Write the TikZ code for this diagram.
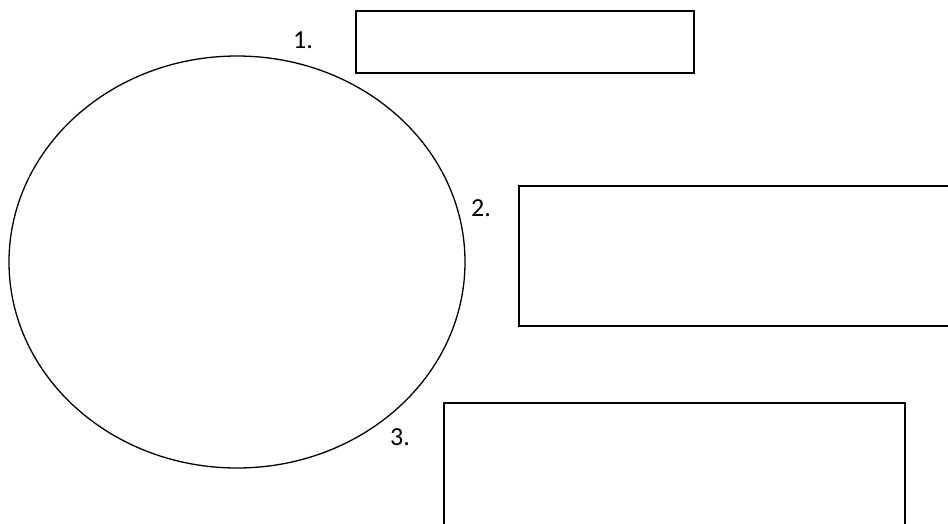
\documentclass[tikz,border=0pt]{standalone}
\usepackage{fontspec}
\setmainfont{Carlito}
\begin{document}
\begin{tikzpicture}[x=1pt,y=-1pt,
  box/.style={draw=black,line width=1.5pt},
  lbl/.style={font=\fontsize{26}{30}\selectfont,inner sep=0pt}]
\useasboundingbox (0,0) rectangle (948,523);
\clip (0,0) rectangle (948,523);
\draw[line width=1.3pt] (237,262) ellipse [x radius=228, y radius=206];
\node[box,minimum width=338pt,minimum height=62pt,anchor=north west] (r1) at (355,10) {};
\node[box,minimum width=440pt,minimum height=140pt,anchor=north west] (r2) at (518,185) {};
\node[box,minimum width=461pt,minimum height=160pt,anchor=north west] (r3) at (443,402) {};
\node[lbl] (l1) at (303,40) {1.};
\node[lbl] (l2) at (481,208) {2.};
\node[lbl] (l3) at (400,437) {3.};
\end{tikzpicture}
\end{document}
